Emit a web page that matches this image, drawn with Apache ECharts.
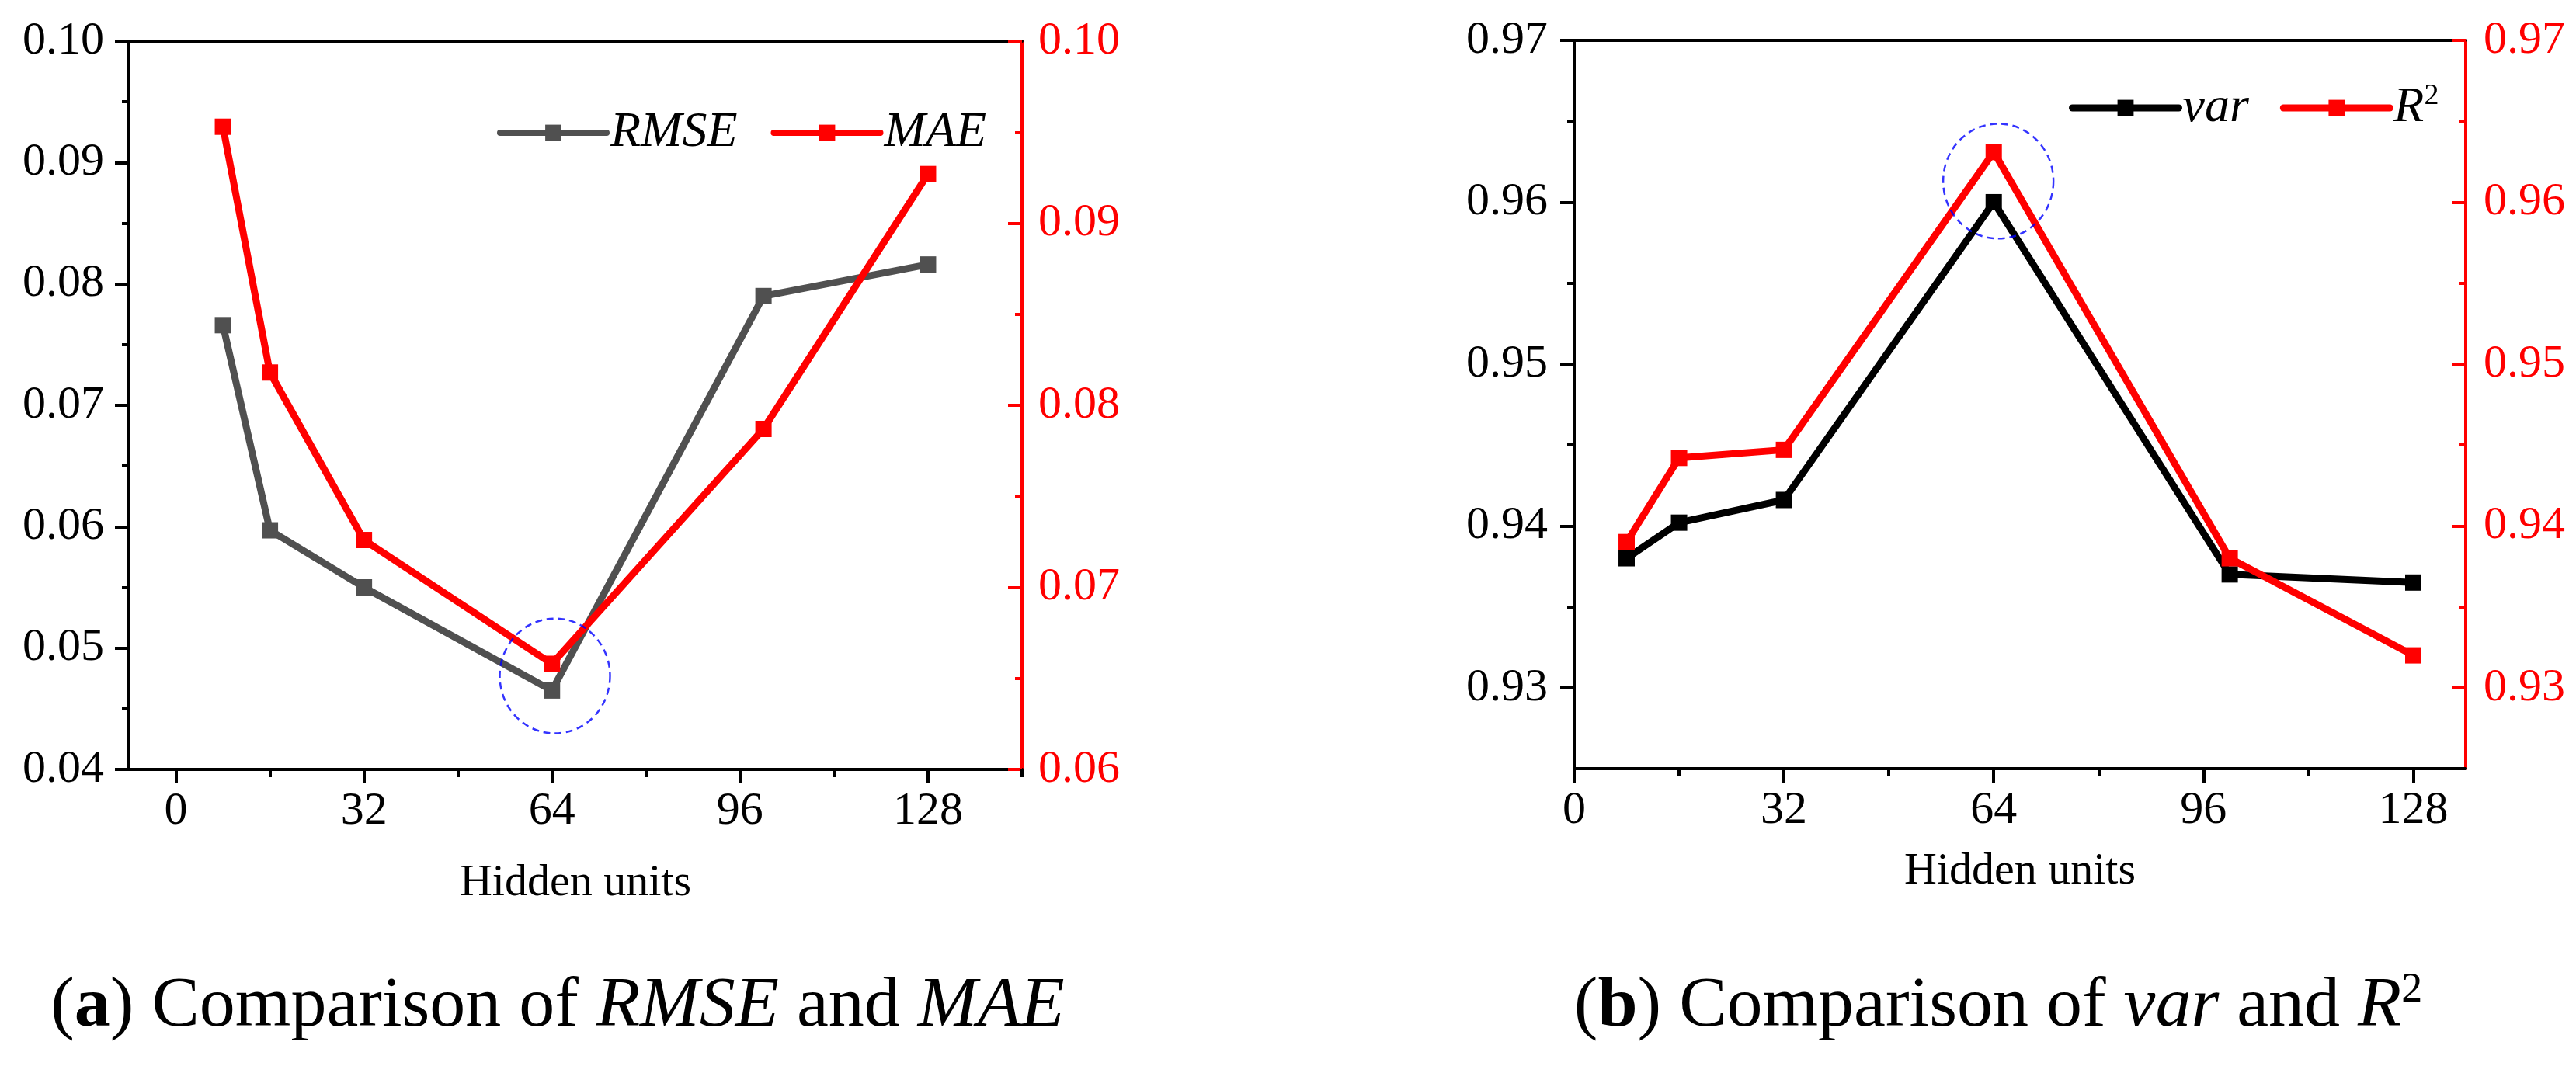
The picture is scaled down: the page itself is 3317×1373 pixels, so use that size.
<!DOCTYPE html>
<html>
<head>
<meta charset="utf-8">
<script src="https://cdn.jsdelivr.net/npm/echarts@6/dist/echarts.min.js"></script>
<style>
  html, body { margin: 0; padding: 0; background: #fff; }
  #main { width: 3317px; height: 1373px; }
</style>
</head>
<body>
<div id="main"></div>
<script>
// data
const hiddenUnits = [8, 16, 32, 64, 100, 128];
const rmse = [0.0766, 0.0597, 0.0550, 0.0465, 0.0790, 0.0816];
const mae = [0.0953, 0.0818, 0.0726, 0.0658, 0.0787, 0.0927];
const varScore = [0.9380, 0.9402, 0.9416, 0.9600, 0.9370, 0.9365];
const r2 = [0.9390, 0.9442, 0.9447, 0.9631, 0.9380, 0.9320];

// highlighted optimum (dashed ellipse centres)
const circleA = [64.5, 0.0477];
const circleB = [64.7, 0.9613];

// tick values
const xMajor = [0, 32, 64, 96, 128];
const xMinorA = [16, 48, 80, 112, 144];
const xMinorB = [16, 48, 80, 112];
const yMajorA = [0.04, 0.05, 0.06, 0.07, 0.08, 0.09, 0.10];
const yMinorA = [0.045, 0.055, 0.065, 0.075, 0.085, 0.095];
const yMajorA2 = [0.06, 0.07, 0.08, 0.09, 0.10];
const yMinorA2 = [0.065, 0.075, 0.085, 0.095];
const yMajorB = [0.93, 0.94, 0.95, 0.96, 0.97];
const yMinorB = [0.935, 0.945, 0.955, 0.965];

const FONT = '"Liberation Serif", "Times New Roman", serif';
const RED = '#ff0000';

const pairs = ys => hiddenUnits.map((x, i) => [x, ys[i]]);
const fmt2 = v => v.toFixed(2);

function axis(o) {
  return {
    type: 'value',
    gridIndex: o.grid,
    position: o.pos,
    min: o.min,
    max: o.max,
    splitLine: { show: false },
    axisLine: { show: !!o.line, onZero: false, lineStyle: { color: o.color || '#000', width: 4 } },
    axisTick: {
      show: !!o.ticks,
      inside: !!o.inside,
      length: o.len || 18,
      customValues: o.ticks,
      lineStyle: { color: o.color || '#000', width: 4 }
    },
    axisLabel: {
      show: !!o.labels,
      customValues: o.ticks,
      margin: o.margin || 20,
      color: o.color || '#000',
      fontFamily: FONT,
      fontSize: 60,
      formatter: o.fmt
    },
    name: o.name,
    nameLocation: 'middle',
    nameGap: o.nameGap,
    nameTextStyle: { fontFamily: FONT, fontSize: 58, color: '#000' }
  };
}

function lineSeries(name, xi, yi, ys, color) {
  return {
    name: name, type: 'line', xAxisIndex: xi, yAxisIndex: yi,
    data: pairs(ys),
    symbol: 'rect', symbolSize: 21,
    lineStyle: { color: color, width: 9 },
    itemStyle: { color: color },
    z: 3
  };
}

function ring(xi, yi, c) {
  return {
    type: 'scatter', xAxisIndex: xi, yAxisIndex: yi, silent: true,
    data: [c], symbol: 'circle', symbolSize: [142, 148],
    itemStyle: { color: 'transparent', borderColor: '#0000ff', borderWidth: 2.5, borderType: [9, 6] },
    z: 4
  };
}

const legendText = {
  fontFamily: FONT, fontSize: 64, color: '#000',
  rich: {
    i: { fontFamily: FONT, fontStyle: 'italic', fontSize: 64, color: '#000' },
    s: { fontFamily: FONT, fontSize: 38, color: '#000', padding: [0, 0, 30, 0] }
  }
};

const capRich = {
  n: { fontFamily: FONT, fontSize: 92, fill: '#000' },
  b: { fontFamily: FONT, fontSize: 92, fontWeight: 'bold', fill: '#000' },
  i: { fontFamily: FONT, fontSize: 92, fontStyle: 'italic', fill: '#000' },
  s: { fontFamily: FONT, fontSize: 54, fill: '#000', padding: [0, 0, 42, 0] }
};

let myChart = echarts.init(document.getElementById('main'));
let option = {
  animation: false,
  backgroundColor: '#fff',
  grid: [
    { left: 166, top: 53, width: 1150, height: 938 },
    { left: 2027, top: 52, width: 1148, height: 938 }
  ],
  xAxis: [
    axis({ grid: 0, pos: 'bottom', min: -8, max: 144, line: true, ticks: xMajor, labels: true, margin: 24, name: 'Hidden units', nameGap: 118 }),
    axis({ grid: 0, pos: 'bottom', min: -8, max: 144, ticks: xMinorA, len: 10 }),
    axis({ grid: 1, pos: 'bottom', min: 0, max: 136, line: true, ticks: xMajor, labels: true, margin: 24, name: 'Hidden units', nameGap: 104 }),
    axis({ grid: 1, pos: 'bottom', min: 0, max: 136, ticks: xMinorB, len: 10 }),
    axis({ grid: 0, pos: 'top', min: -8, max: 144, line: true }),
    axis({ grid: 1, pos: 'top', min: 0, max: 136, line: true })
  ],
  yAxis: [
    axis({ grid: 0, pos: 'left', min: 0.04, max: 0.10, line: true, ticks: yMajorA, labels: true, margin: 32, fmt: fmt2 }),
    axis({ grid: 0, pos: 'right', min: 0.06, max: 0.10, line: true, ticks: yMajorA2, labels: true, margin: 21, fmt: fmt2, inside: true, color: RED }),
    axis({ grid: 1, pos: 'left', min: 0.925, max: 0.97, line: true, ticks: yMajorB, labels: true, margin: 34, fmt: fmt2 }),
    axis({ grid: 1, pos: 'right', min: 0.925, max: 0.97, line: true, ticks: yMajorB, labels: true, margin: 23, fmt: fmt2, inside: true, color: RED }),
    axis({ grid: 0, pos: 'left', min: 0.04, max: 0.10, ticks: yMinorA, len: 9 }),
    axis({ grid: 0, pos: 'right', min: 0.06, max: 0.10, ticks: yMinorA2, len: 9, inside: true, color: RED }),
    axis({ grid: 1, pos: 'left', min: 0.925, max: 0.97, ticks: yMinorB, len: 9 }),
    axis({ grid: 1, pos: 'right', min: 0.925, max: 0.97, ticks: yMinorB, len: 9, inside: true, color: RED })
  ],
  legend: [
    {
      data: ['RMSE', 'MAE'], left: 635, top: 134, itemWidth: 137, itemHeight: 26, itemGap: 43,
      lineStyle: { width: 8, cap: 'round' },
      formatter: n => '{i|' + n + '}', textStyle: legendText
    },
    {
      data: ['var', 'R2'], left: 2659, top: 100, itemWidth: 137, itemHeight: 26, itemGap: 40,
      lineStyle: { width: 9, cap: 'round' },
      formatter: n => n === 'R2' ? '{i|R}{s|2}' : '{i|' + n + '}', textStyle: legendText
    }
  ],
  series: [
    lineSeries('RMSE', 0, 0, rmse, '#505050'),
    lineSeries('MAE', 0, 1, mae, RED),
    lineSeries('var', 2, 2, varScore, '#000000'),
    lineSeries('R2', 2, 3, r2, RED),
    ring(0, 0, circleA),
    ring(2, 2, circleB)
  ],
  graphic: [
    {
      type: 'text', x: 718, y: 1297,
      style: {
        text: '{n|(}{b|a}{n|) Comparison of }{i|RMSE}{n| and }{i|MAE}',
        align: 'center', verticalAlign: 'middle', rich: capRich
      }
    },
    {
      type: 'text', x: 2573, y: 1297,
      style: {
        text: '{n|(}{b|b}{n|) Comparison of }{i|var}{n| and }{i|R}{s|2}',
        align: 'center', verticalAlign: 'middle', rich: capRich
      }
    }
  ]
};
myChart.setOption(option);
</script>
</body>
</html>
